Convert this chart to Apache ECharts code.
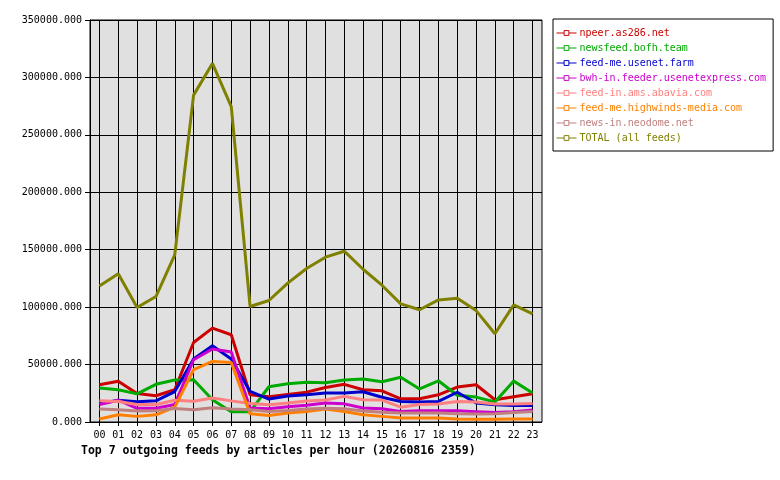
<!DOCTYPE html>
<html>
<head>
<meta charset="utf-8">
<title>outgoing feeds</title>
<script src="https://cdn.jsdelivr.net/npm/echarts/dist/echarts.min.js"></script>
<style>
  html, body { margin: 0; padding: 0; background: #fff; }
  #chart { width: 780px; height: 480px; }
</style>
</head>
<body>
<div id="chart"></div>
<script>
let hours = ['00','01','02','03','04','05','06','07','08','09','10','11',
             '12','13','14','15','16','17','18','19','20','21','22','23']

let feedNames = [
  'npeer.as286.net',
  'newsfeed.bofh.team',
  'feed-me.usenet.farm',
  'bwh-in.feeder.usenetexpress.com',
  'feed-in.ams.abavia.com',
  'feed-me.highwinds-media.com',
  'news-in.neodome.net',
  'TOTAL (all feeds)'
]
let feedColors = ['#cc0000','#00aa00','#0000cc','#cc00cc','#ff8080','#ff8000','#c08080','#808000']

let npeer    = [32400,35500,24900,22900,28100,69200,81700,76000,23700,22000,24000,26000,
                30000,32800,28100,27200,20200,20200,23700,30400,32400,19400,22000,24600]
let bofh     = [29600,28100,24500,32800,36500,36800,19400,9000,9000,30700,33300,34600,
                34100,36500,37500,35000,39000,28800,35900,23300,21700,17400,35600,25200]
let usenetFarm = [16000,19000,17600,18400,26500,54800,66300,54800,26600,20000,22600,23800,
                25200,25200,26300,21500,17900,17400,17900,25900,16500,15000,14400,14300]
let bwh      = [15300,19000,11900,12000,15300,54200,63500,60900,12200,11500,13300,14600,
                16500,15800,12200,11600,9200,9800,9800,9800,9000,8200,9000,10400]
let abavia   = [18400,17900,15300,15300,19000,18100,20900,18400,16200,15000,16500,18200,
                19100,22300,19400,19100,12900,15300,15700,17900,17400,15700,15700,16200]
let highwinds = [2600,6300,4900,6300,13000,45500,52700,51800,7100,5700,7800,9200,
                11400,9200,6300,4900,3500,3500,3500,2700,2300,2300,2700,2700]
let neodome  = [11400,10700,9600,9900,11700,10700,12400,11400,10700,9200,10100,11400,
                11900,11500,9500,8500,7800,7800,7800,7200,7000,7200,8200,9200]
let total    = [118500,129000,99700,109200,145500,284600,312200,274500,100600,105800,120900,133600,
                143500,148700,133000,119100,102900,97700,106300,107800,97000,76800,102000,94200]

let feedValues = [npeer,bofh,usenetFarm,bwh,abavia,highwinds,neodome,total]

let yTicksMax = 350000
let yStep = 50000

let mono = '"DejaVu Sans Mono", "Liberation Mono", monospace'

let chart = echarts.init(document.getElementById('chart'))

let series = feedNames.map((name, i) => ({
  name: name,
  type: 'line',
  xAxisIndex: 1,
  yAxisIndex: 1,
  data: feedValues[i],
  symbol: 'rect',
  symbolSize: 5,
  showSymbol: false,
  animation: false,
  lineStyle: { color: feedColors[i], width: 3 },
  itemStyle: { color: feedColors[i], borderColor: feedColors[i] },
  emphasis: { disabled: true }
}))

chart.setOption({
  backgroundColor: '#fff',
  animation: false,
  title: {
    text: 'Top 7 outgoing feeds by articles per hour (20260816 2359)',
    left: 81,
    top: 445,
    padding: 0,
    textStyle: { fontFamily: mono, fontSize: 11.5, fontWeight: 'bold', color: '#000' }
  },
  legend: {
    orient: 'vertical',
    left: 553,
    top: 19,
    padding: [8, 7, 7, 3],
    itemGap: 3,
    itemWidth: 20,
    itemHeight: 6,
    borderColor: '#000',
    borderWidth: 1,
    backgroundColor: '#fff',
    lineStyle: { width: 1 },
    itemStyle: { color: '#fff', borderWidth: 1 },
    selectedMode: false,
    textStyle: { fontFamily: mono, fontSize: 10, lineHeight: 12, padding: [0, 0, 0, -2] },
    data: feedNames.map((n, i) => ({ name: n, textStyle: { color: feedColors[i] } }))
  },
  grid: [
    // outer box: background, y axis and horizontal lines
    { left: 90, right: 238, top: 20, bottom: 58, show: true,
      backgroundColor: '#e0e0e0', borderColor: '#000', borderWidth: 1 },
    // inner box: one hour per vertical line
    { left: 99.42, right: 247.42, top: 20, bottom: 58 }
  ],
  xAxis: [
    { type: 'category', gridIndex: 0, data: hours, show: false },
    {
      type: 'category', gridIndex: 1, data: hours, boundaryGap: false,
      axisLine: { show: false },
      axisTick: { show: true, length: 4, lineStyle: { color: '#000' } },
      splitLine: { show: true, lineStyle: { color: '#000', width: 1 } },
      axisLabel: { fontFamily: mono, fontSize: 10, color: '#000', margin: 8, interval: 0 }
    }
  ],
  yAxis: [
    {
      type: 'value', gridIndex: 0, min: 0, max: yTicksMax, interval: yStep,
      axisLine: { show: true, lineStyle: { color: '#000' } },
      axisTick: { show: true, length: 5, lineStyle: { color: '#000' } },
      splitLine: { show: true, lineStyle: { color: '#000', width: 1 } },
      axisLabel: {
        fontFamily: mono, fontSize: 10, color: '#000', margin: 8,
        formatter: v => v.toFixed(3)
      }
    },
    { type: 'value', gridIndex: 1, min: 0, max: yTicksMax, interval: yStep, show: false }
  ],
  series: series
})
</script>
</body>
</html>
